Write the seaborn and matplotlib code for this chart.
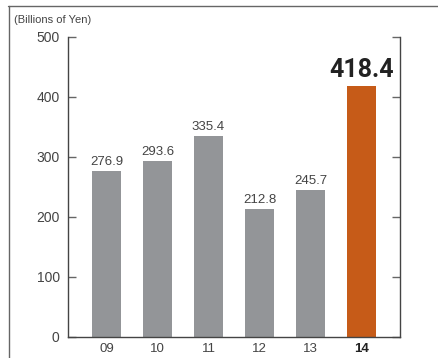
import matplotlib
matplotlib.use("Agg")
import matplotlib.pyplot as plt
import seaborn as sns
import pandas as pd
from matplotlib.lines import Line2D

years = ["09", "10", "11", "12", "13", "14"]
values = [276.9, 293.6, 335.4, 212.8, 245.7, 418.4]
labels = ["276.9", "293.6", "335.4", "212.8", "245.7", "418.4"]
yticks = [0, 100, 200, 300, 400, 500]

sns.set_style("white")
plt.rcParams['font.family'] = ['Liberation Sans', 'DejaVu Sans']

df = pd.DataFrame({"year": years, "value": values})
colors = ["#939598"] * 5 + ["#C65B18"]

fig = plt.figure(figsize=(4.38, 3.58), dpi=100)
W, H = 438, 358
ax = fig.add_axes([68 / W, 1 - 337 / H, (400 - 68) / W, (337 - 37) / H])

sns.barplot(data=df, x="year", y="value", hue="year", palette=colors,
            legend=False, width=0.57, saturation=1, ax=ax, edgecolor="none")

ax.set_xlim(-0.755, 5.755)
ax.set_ylim(0, 500)
ax.set_yticks(yticks)
ax.set_yticklabels([str(t) for t in yticks])
ax.set_xlabel("")
ax.set_ylabel("")

for s in ["left", "bottom", "right"]:
    ax.spines[s].set_visible(True)
    ax.spines[s].set_color("#444444")
    ax.spines[s].set_linewidth(1.0)
ax.spines["top"].set_visible(False)

ax.tick_params(axis="y", which="both", direction="in", length=6, width=1,
               color="#666666", left=True, right=True, labelsize=10,
               labelcolor="#444444", pad=6)
ax.tick_params(axis="x", length=0, labelsize=9.5, labelcolor="#444444", pad=4)
for i, t in enumerate(ax.get_xticklabels()):
    if i == len(years) - 1:
        t.set_fontweight("bold")
        t.set_color("#222222")

for i, (v, lab) in enumerate(zip(values, labels)):
    if i == len(values) - 1:
        ax.text(i, v + 6, lab, ha="center", va="bottom", fontsize=18,
                fontweight="bold", color="#222222",
                family=["Roboto", "Liberation Sans", "DejaVu Sans"])
    else:
        ax.text(i, v + 5, lab, ha="center", va="bottom", fontsize=9.5,
                color="#444444")

fig.text(14 / W, 1 - 20 / H, "(Billions of Yen)", fontsize=8, color="#444444",
         ha="left", va="center")

# outer frame lines
fig.add_artist(Line2D([8 / W, 1.0], [1 - 6 / H, 1 - 6 / H], color="#666666",
                      linewidth=1, transform=fig.transFigure))
fig.add_artist(Line2D([9 / W, 9 / W], [1 - 6 / H, 0], color="#666666",
                      linewidth=1, transform=fig.transFigure))

fig.savefig("out.png", dpi=100)
